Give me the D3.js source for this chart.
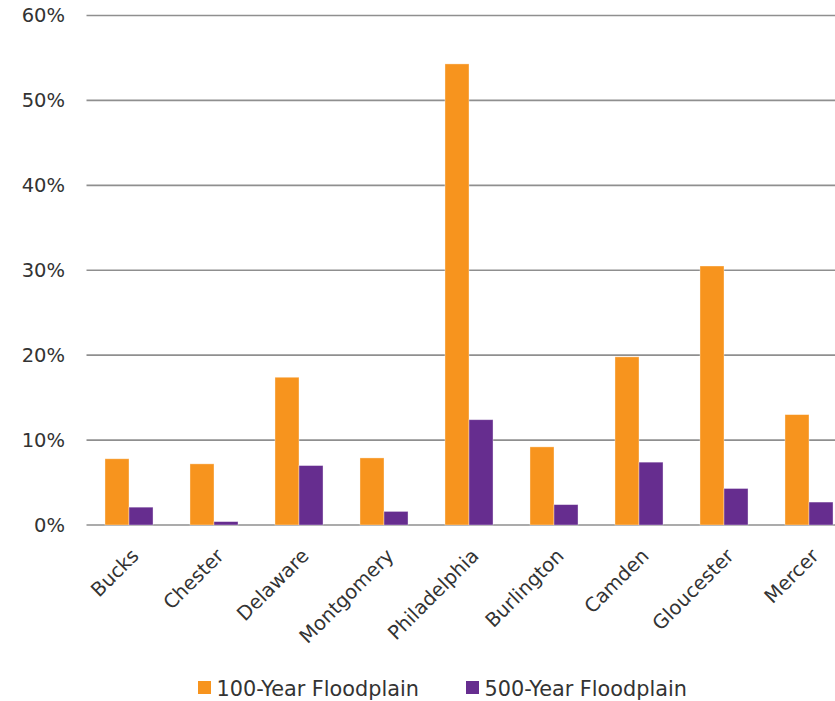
<!DOCTYPE html>
<html>
<head>
<meta charset="utf-8">
<script src="https://cdn.jsdelivr.net/npm/d3@7"></script>
<style>
  html, body { margin: 0; padding: 0; background: #fff; }
  svg { display: block; }
  text { font-family: "DejaVu Sans", sans-serif; fill: #333; }
</style>
</head>
<body>
<svg id="chart" width="835" height="701"></svg>
<script>
// Share of county land area inside mapped floodplains
const counties = ["Bucks", "Chester", "Delaware", "Montgomery", "Philadelphia",
                  "Burlington", "Camden", "Gloucester", "Mercer"];
const floodplain100 = [7.8, 7.2, 17.4, 7.9, 54.3, 9.2, 19.8, 30.5, 13.0];
const floodplain500 = [2.1, 0.4, 7.0, 1.6, 12.4, 2.4, 7.4, 4.3, 2.7];
const seriesNames = ["100-Year Floodplain", "500-Year Floodplain"];
const seriesColors = ["#F7941E", "#662D8F"];
const yTicks = [0, 10, 20, 30, 40, 50, 60];

const FONT = "'DejaVu Sans', sans-serif";
const TEXT_COLOR = "#3c3c3c";
const svg = d3.select("#chart");
const plotLeft = 86.5, plotRight = 851.5, plotTop = 15.5, plotBottom = 525;

const x = d3.scaleBand().domain(counties).range([plotLeft, plotRight]).paddingInner(0.435).paddingOuter(0.2175);
const inner = d3.scaleBand().domain([0, 1]).range([0, x.bandwidth()]);
const y = d3.scaleLinear().domain([0, 60]).range([plotBottom, plotTop]);

// Horizontal gridlines
svg.append("g")
  .selectAll("line")
  .data(yTicks)
  .join("line")
  .attr("x1", plotLeft).attr("x2", plotRight)
  .attr("y1", d => y(d)).attr("y2", d => y(d))
  .attr("stroke", "#8f8f8f")
  .attr("stroke-width", 1.6);

// Y axis labels
const yAxis = d3.axisLeft(y).tickValues(yTicks).tickFormat(d => d + "%").tickSize(0).tickPadding(0);
const yg = svg.append("g").attr("transform", `translate(65,0)`).call(yAxis);
yg.select(".domain").remove();
yg.selectAll("text")
  .attr("font-size", 19.5)
  .attr("fill", TEXT_COLOR)
  .style("font-family", FONT);

// Bars
const rows = counties.map((c, i) => ({ county: c, values: [floodplain100[i], floodplain500[i]] }));
const groups = svg.append("g")
  .selectAll("g")
  .data(rows)
  .join("g")
  .attr("transform", d => `translate(${x(d.county)},0)`);

groups.selectAll("rect")
  .data(d => d.values.map((v, k) => ({ v, k })))
  .join("rect")
  .attr("x", d => inner(d.k))
  .attr("width", inner.bandwidth())
  .attr("y", d => y(d.v))
  .attr("height", d => y(0) - y(d.v))
  .attr("fill", d => seriesColors[d.k])
  .attr("stroke", "rgba(255,255,255,0.45)")
  .attr("stroke-width", 0.8);

// Category labels, rotated
const xAxis = d3.axisBottom(x).tickSize(0).tickPadding(0);
const xg = svg.append("g").attr("transform", `translate(0,${plotBottom})`).call(xAxis);
xg.select(".domain").remove();
xg.selectAll("text")
  .attr("font-size", 19.5)
  .attr("fill", TEXT_COLOR)
  .style("font-family", FONT)
  .attr("text-anchor", "end")
  .attr("dy", 0)
  .attr("transform", "translate(11,32) rotate(-45)");

// Legend
const legendX = [198, 466];
const legend = svg.append("g")
  .selectAll("g")
  .data(seriesNames)
  .join("g")
  .attr("transform", (d, i) => `translate(${legendX[i]},681)`);
legend.append("rect")
  .attr("width", 13).attr("height", 13)
  .attr("fill", (d, i) => seriesColors[i]);
legend.append("text")
  .attr("x", 18.5).attr("y", 14.5)
  .attr("font-size", 20.8)
  .attr("fill", TEXT_COLOR)
  .style("font-family", FONT)
  .text(d => d);
</script>
</body>
</html>
